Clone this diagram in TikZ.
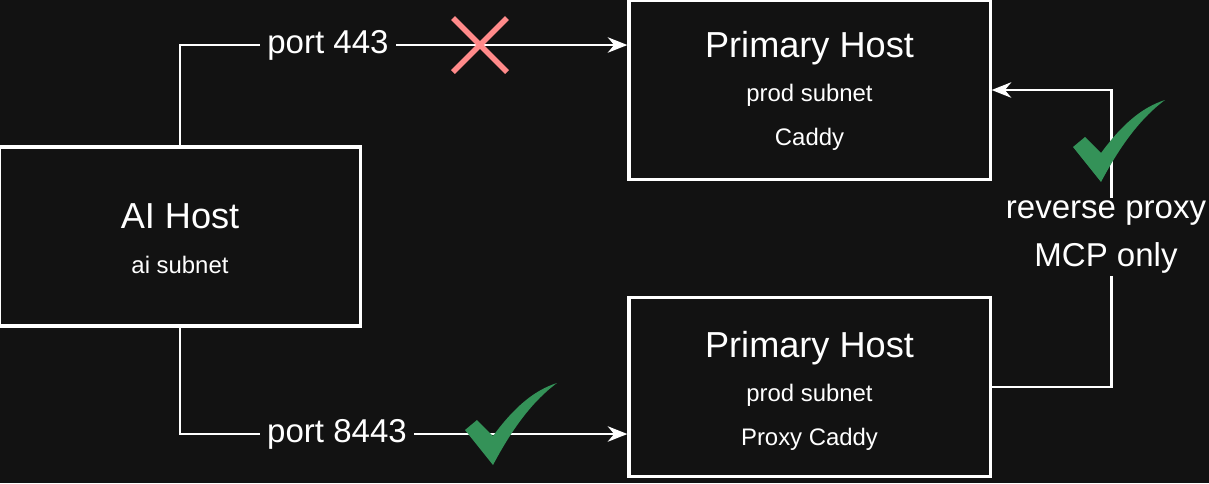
\documentclass[tikz,border=0pt]{standalone}
\usepackage{fontspec}
\setmainfont{Liberation Sans}
\usetikzlibrary{arrows.meta,positioning}
\definecolor{bgdark}{RGB}{18,18,18}
\definecolor{okgreen}{RGB}{52,146,88}
\definecolor{nopink}{RGB}{255,138,138}
\tikzset{
  hostbox/.style={draw=white, line width=2.2pt, fill=bgdark, minimum width=9.025cm, minimum height=4.475cm},
  link/.style={draw=white, line width=1.6pt, -{Stealth[length=14pt,width=11pt]}},
  portlabel/.style={fill=bgdark, text=white, font=\fontsize{23.5}{27}\selectfont, inner sep=5pt},
  pics/okmark/.style={code={
    \fill[okgreen] (-45,2) -- (-33,-8) -- (-17,8) .. controls (5,-22) and (25,-38) .. (47,-45)
      .. controls (20,-25) and (0,5) .. (-17,37) -- cycle;}},
  pics/nomark/.style={code={
    \draw[nopink, line width=4pt] (-27,-27) -- (27,27) (-27,27) -- (27,-27);}}
}
\begin{document}
\begin{tikzpicture}[x=0.025cm, y=-0.025cm, text=white]
  \fill[bgdark] (0,0) rectangle (1209,483);
  \useasboundingbox (0,0) rectangle (1209,483);
  % hosts
  \node[hostbox] (ai) at (180,236.5) {};
  \node[font=\fontsize{25.7}{30}\selectfont] at (180,216) {AI Host};
  \node[font=\fontsize{17}{20}\selectfont] at (180,265) {ai subnet};
  \node[hostbox] (prod) at (809.5,90) {};
  \node[font=\fontsize{25.7}{30}\selectfont] at (809.5,48) {Primary Host};
  \node[font=\fontsize{17}{20}\selectfont] at (809.5,95) {prod subnet};
  \node[font=\fontsize{17}{20}\selectfont] at (809.5,139) {Caddy};
  \node[hostbox] (proxy) at (809.5,387) {};
  \node[font=\fontsize{25.7}{30}\selectfont] at (809.5,348) {Primary Host};
  \node[font=\fontsize{17}{20}\selectfont] at (809.5,395) {prod subnet};
  \node[font=\fontsize{17}{20}\selectfont] at (809.5,439) {Proxy Caddy};
  % connectors
  \coordinate (topbend) at (180,45);
  \coordinate (botbend) at (180,434);
  \draw[link] (ai.north) -- (topbend) -- (prod.west |- topbend);
  \draw[link] (ai.south) -- (botbend) -- (proxy.west |- botbend);
  \draw[link] (proxy.east) -- ++(120,0) |- (prod.east);
  \node[portlabel] (p443) at (328,45) {port 443};
  \node[portlabel] (p8443) at (337,434) {port 8443};
  \node[fill=bgdark, align=center, font=\fontsize{23.5}{34}\selectfont, inner sep=2pt] (rp) at (1106,237) {reverse proxy\\MCP only};
  % marks
  \pic at (480,45) {nomark};
  \pic at (510,428) {okmark};
  \pic at (1118,145) {okmark};
\end{tikzpicture}
\end{document}
